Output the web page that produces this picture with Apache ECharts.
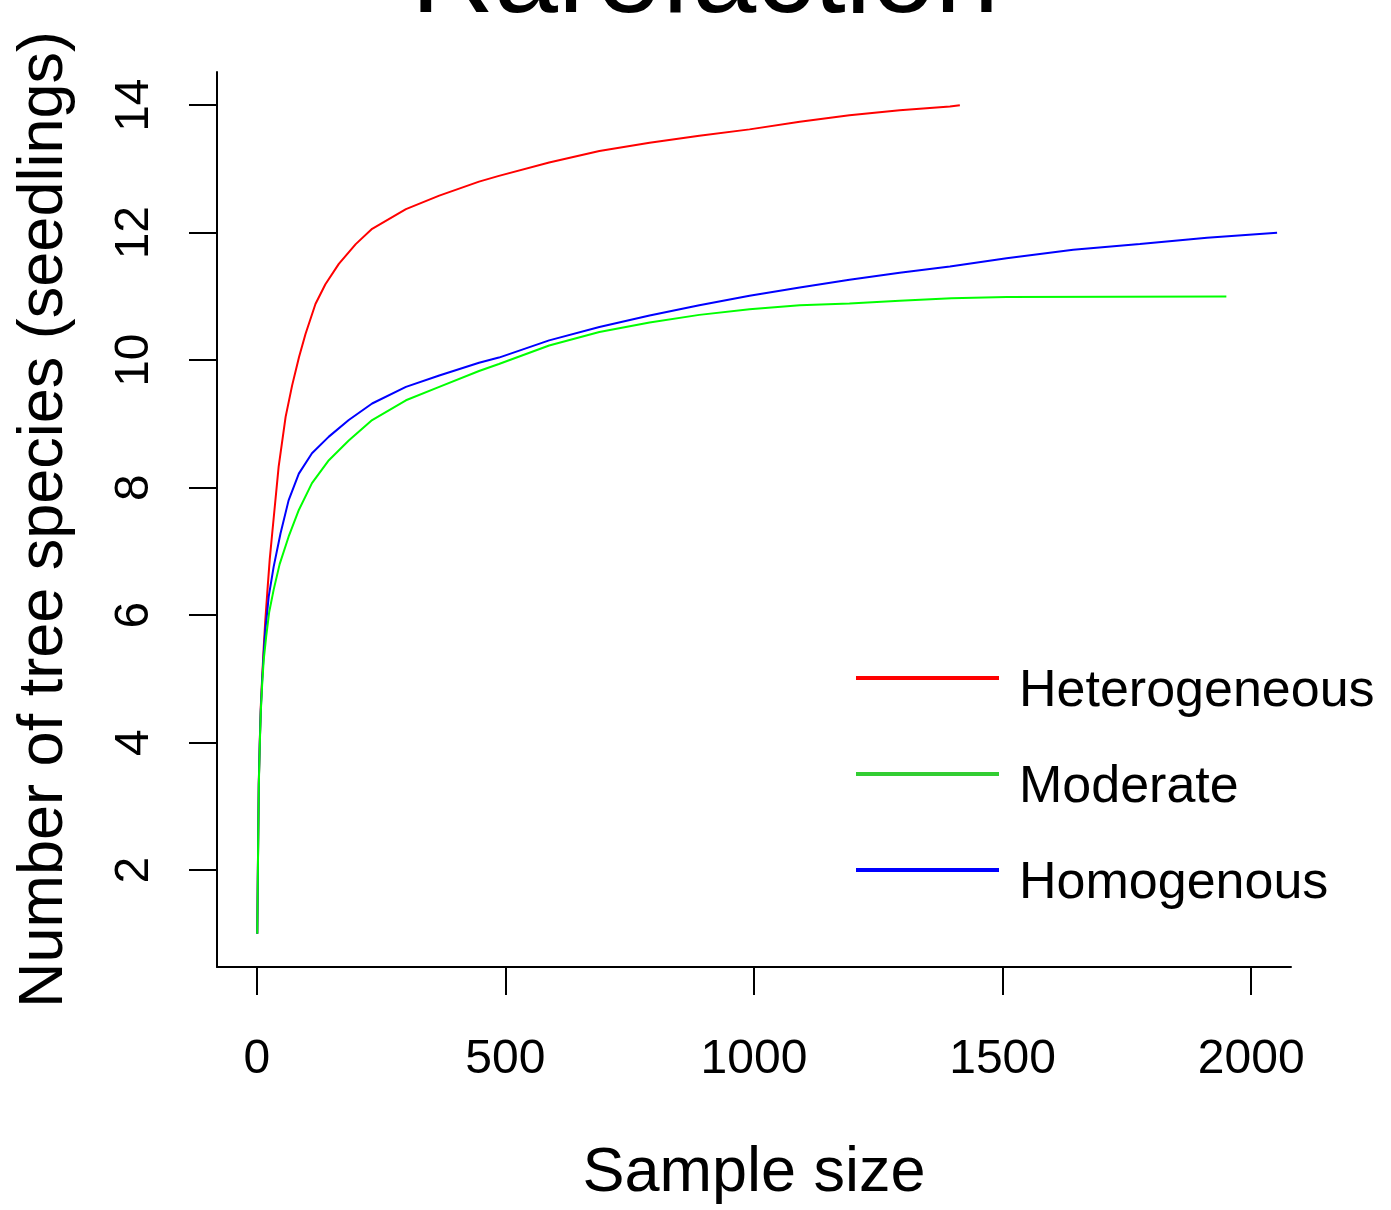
<!DOCTYPE html>
<html>
<head>
<meta charset="utf-8">
<title>Rarefaction</title>
<script src="https://cdn.jsdelivr.net/npm/echarts@6/dist/echarts.min.js"></script>
<style>
  html, body { margin: 0; padding: 0; background: #fff; }
  #chart { width: 1391px; height: 1210px; }
</style>
</head>
<body>
<div id="chart"></div>
<script>
// values
var seriesNames = ['Heterogeneous', 'Moderate', 'Homogenous'];

var heteroX = [1, 2, 4, 6, 8, 11, 14, 17, 21, 26, 31, 44, 58, 71, 85, 98, 118, 138, 165, 199, 232, 300, 367, 447, 487, 588, 689, 790, 890, 991, 1092, 1192, 1293, 1394, 1414];
var heteroY = [1, 1.85, 3.35, 4.0, 4.55, 5.05, 5.5, 5.9, 6.34, 6.87, 7.28, 8.33, 9.11, 9.6, 10.05, 10.41, 10.88, 11.19, 11.51, 11.82, 12.06, 12.37, 12.58, 12.8, 12.89, 13.1, 13.28, 13.41, 13.52, 13.62, 13.74, 13.84, 13.92, 13.98, 14.0];

var modX = [1, 2, 4, 6, 8, 11, 14, 19, 25, 34, 46, 64, 84.6, 111, 145, 185, 232, 300, 367, 447, 487, 588, 689, 790, 890, 991, 1092, 1192, 1293, 1397, 1508, 1950];
var modY = [1, 1.8, 3.3, 3.95, 4.47, 4.94, 5.3, 5.67, 6.05, 6.4, 6.8, 7.23, 7.65, 8.07, 8.43, 8.74, 9.06, 9.37, 9.58, 9.83, 9.94, 10.23, 10.44, 10.59, 10.71, 10.8, 10.86, 10.89, 10.93, 10.97, 10.99, 11.0];

var homoX = [1, 2, 4, 6, 8, 11, 14, 17, 21, 24, 34, 47.7, 64, 84.6, 111, 145, 185, 232, 300, 367, 447, 487, 588, 689, 790, 890, 991, 1092, 1192, 1293, 1394, 1508, 1642, 1776, 1911, 2052];
var homoY = [1, 1.85, 3.35, 4.0, 4.5, 5.0, 5.4, 5.75, 6.05, 6.29, 6.76, 7.28, 7.8, 8.22, 8.54, 8.8, 9.06, 9.32, 9.58, 9.76, 9.96, 10.04, 10.31, 10.52, 10.7, 10.86, 11.01, 11.14, 11.26, 11.37, 11.47, 11.6, 11.73, 11.82, 11.92, 12.0];

var xTicks = [0, 500, 1000, 1500, 2000];
var yTicks = [2, 4, 6, 8, 10, 12, 14];

function pairs(xs, ys) {
    return xs.map(function (x, i) { return [x, ys[i]]; });
}

var font = "'Liberation Sans', Arial, sans-serif";
var chart = echarts.init(document.getElementById('chart'), null, { renderer: 'canvas' });

function curve(name, color, xs, ys) {
    return {
        name: name, type: 'line', showSymbol: false, symbol: 'none',
        lineStyle: { color: color, width: 2 }, itemStyle: { color: color },
        data: pairs(xs, ys)
    };
}

chart.setOption({
    animation: false,
    backgroundColor: '#ffffff',
    textStyle: { fontFamily: font, color: '#000' },
    graphic: [{
        type: 'text',
        x: 705,
        y: -20,
        style: {
            text: 'Rarefaction',
            font: '115px ' + font,
            fill: '#000',
            align: 'center',
            verticalAlign: 'middle'
        }
    }],
    grid: { left: 217, right: 100, top: 72, bottom: 239, containLabel: false },
    legend: {
        orient: 'vertical',
        left: 851,
        top: 661,
        itemWidth: 143,
        itemHeight: 4,
        itemGap: 44,
        icon: 'rect',
        formatter: '{a|{name}}',
        textStyle: {
            fontSize: 52, fontFamily: font, color: '#000',
            rich: { a: { fontSize: 52, fontFamily: font, color: '#000', padding: [28, 0, 0, 15] } }
        },
        data: [
            { name: 'Heterogeneous', itemStyle: { color: '#ff0000' } },
            { name: 'Moderate', itemStyle: { color: '#32cd32' } },
            { name: 'Homogenous', itemStyle: { color: '#0000ff' } }
        ]
    },
    xAxis: {
        type: 'value',
        min: -80,
        max: 2080,
        name: 'Sample size',
        nameLocation: 'middle',
        nameGap: 175,
        nameTextStyle: { fontSize: 63, fontFamily: font, color: '#000' },
        splitLine: { show: false },
        axisLine: { show: true, onZero: false, lineStyle: { color: '#000', width: 2 } },
        axisTick: { show: true, length: 28, customValues: xTicks, lineStyle: { color: '#000', width: 2 } },
        axisLabel: {
            customValues: xTicks, fontSize: 48, margin: 69, color: '#000', fontFamily: font,
            formatter: function (v) { return String(v); }
        }
    },
    yAxis: {
        type: 'value',
        min: 0.48,
        max: 14.52,
        name: 'Number of tree species (seedlings)',
        nameLocation: 'middle',
        nameRotate: 90,
        nameGap: 141,
        nameTextStyle: { fontSize: 63, fontFamily: font, color: '#000' },
        splitLine: { show: false },
        axisLine: { show: true, onZero: false, lineStyle: { color: '#000', width: 2 } },
        axisTick: { show: true, length: 28, customValues: yTicks, lineStyle: { color: '#000', width: 2 } },
        axisLabel: {
            customValues: yTicks, rotate: 90, fontSize: 48, margin: 58, color: '#000', fontFamily: font,
            formatter: function (v) { return String(v); }
        }
    },
    series: [
        curve(seriesNames[0], '#ff0000', heteroX, heteroY),
        curve(seriesNames[2], '#0000ff', homoX, homoY),
        curve(seriesNames[1], '#00ff00', modX, modY)
    ]
});
</script>
</body>
</html>
